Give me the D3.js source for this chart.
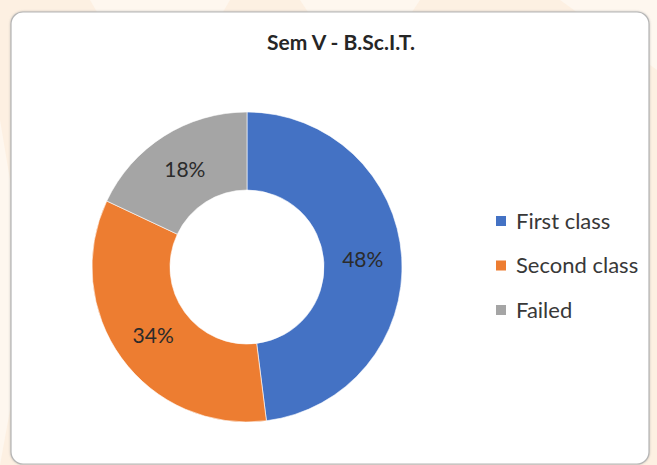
<!DOCTYPE html>
<html>
<head>
<meta charset="utf-8">
<script src="https://cdn.jsdelivr.net/npm/d3@7"></script>
<style>
  html, body { margin: 0; padding: 0; background: #fdf1e4; }
  svg { display: block; }
</style>
</head>
<body>
<svg id="chart" width="657" height="465"></svg>
<script>
// Result split for the semester
const categories = ["First class", "Second class", "Failed"];
const shares = [48, 34, 18];
const colors = ["#4472C4", "#ED7D31", "#A5A5A5"];
const title = "Sem V - B.Sc.I.T.";

const W = 657, H = 465;
const svg = d3.select("#chart");
const FONT = "Lato, 'Open Sans', sans-serif";

// soft background pattern
const bg = svg.append("g");
bg.append("rect").attr("width", W).attr("height", H).attr("fill", "#fdf0e2");
const tri = [
  [[90, 0], [230, 0], [160, 120]],
  [[300, 0], [420, 0], [360, 90]],
  [[560, 0], [657, 0], [657, 70]],
  [[0, 120], [0, 465], [30, 300]]
];
bg.selectAll("polygon.t").data(tri).join("polygon")
  .attr("points", d => d.map(p => p.join(",")).join(" "))
  .attr("fill", "#fef7ef");

// card
const defs = svg.append("defs");
const f = defs.append("filter").attr("id", "sh").attr("x", "-5%").attr("y", "-5%").attr("width", "110%").attr("height", "110%");
f.append("feDropShadow").attr("dx", 0).attr("dy", 0).attr("stdDeviation", 1.2).attr("flood-color", "#999").attr("flood-opacity", 0.6);
svg.append("rect")
  .attr("x", 11).attr("y", 12).attr("width", 638).attr("height", 452)
  .attr("rx", 12).attr("ry", 12)
  .attr("fill", "#fff").attr("stroke", "#b5b5b5").attr("stroke-width", 1.2)
  .attr("filter", "url(#sh)");

// title
svg.append("text")
  .attr("x", 341).attr("y", 50)
  .attr("text-anchor", "middle")
  .attr("font-family", FONT)
  .attr("font-weight", "bold")
  .attr("font-size", 21)
  .attr("fill", "#262626")
  .text(title);

// donut
const cx = 247, cy = 267, rOuter = 155, rInner = 77;
const color = d3.scaleOrdinal().domain(categories).range(colors);
const pie = d3.pie().value(d => d.v).sort(null);
const arcs = pie(categories.map((c, i) => ({ c, v: shares[i] })));
const arc = d3.arc().innerRadius(rInner).outerRadius(rOuter);
const labelArc = d3.arc().innerRadius((rInner + rOuter) / 2).outerRadius((rInner + rOuter) / 2);

const g = svg.append("g").attr("transform", `translate(${cx},${cy})`);
g.selectAll("path").data(arcs).join("path")
  .attr("d", arc)
  .attr("fill", d => color(d.data.c))
  .attr("stroke", "#fff").attr("stroke-width", 0.6);

g.selectAll("text").data(arcs).join("text")
  .attr("transform", d => `translate(${labelArc.centroid(d)})`)
  .attr("text-anchor", "middle")
  .attr("dy", "0.36em")
  .attr("font-family", FONT)
  .attr("font-size", 21)
  .attr("fill", "#2b2b2b")
  .text(d => d.data.v + "%");

// legend
const legend = svg.append("g").attr("transform", "translate(496,221)");
const rows = legend.selectAll("g").data(categories).join("g")
  .attr("transform", (d, i) => `translate(0,${i * 44.5})`);
rows.append("rect")
  .attr("x", 0).attr("y", -5).attr("width", 10).attr("height", 10)
  .attr("fill", d => color(d));
rows.append("text")
  .attr("x", 20).attr("y", 0).attr("dy", "0.36em")
  .attr("font-family", FONT)
  .attr("font-size", 22)
  .attr("fill", "#383838")
  .text(d => d);
</script>
</body>
</html>
